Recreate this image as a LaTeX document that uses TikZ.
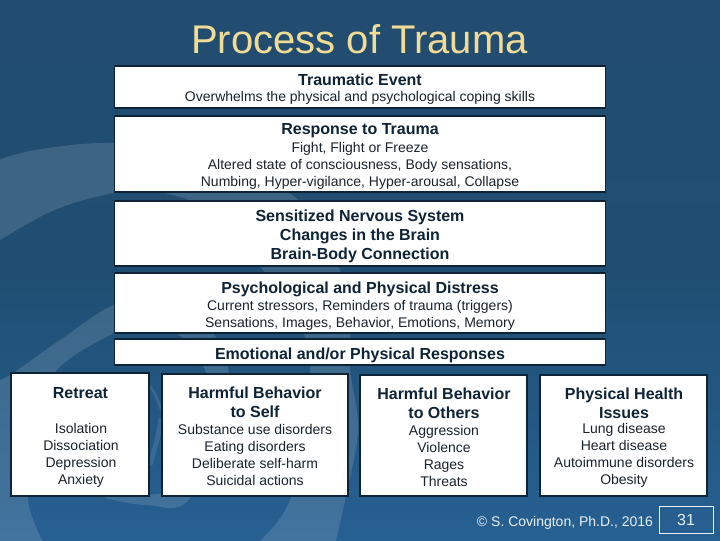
\documentclass[tikz,border=0pt]{standalone}
\usepackage{fontspec}
\setmainfont{Liberation Sans}
\definecolor{titlecol}{RGB}{240,220,150}
\definecolor{inkdark}{RGB}{15,35,55}
\definecolor{inkbody}{RGB}{25,35,45}
\definecolor{bgbot}{RGB}{38,96,146}
\definecolor{bgmidc}{RGB}{32,78,114}
\definecolor{bgtopc}{RGB}{36,75,110}
\pgfdeclareverticalshading{slidebg}{100bp}{
 color(0bp)=(bgbot);
 color(25bp)=(bgbot);
 color(50bp)=(bgmidc);
 color(100bp)=(bgtopc)}
\tikzset{
 wbox/.style={draw=inkdark,line width=0.8pt,fill=white,inner sep=0pt},
 ttl/.style={font=\fontsize{12}{14.3}\selectfont\bfseries,text=inkdark,align=center,inner sep=0pt},
 sub/.style={font=\fontsize{10.5}{12.75}\selectfont,text=inkbody,align=center,inner sep=0pt},
 swirlband/.style={fill=white,fill opacity=.13,draw=none}
}
\begin{document}
\begin{tikzpicture}[x=0.75pt,y=-0.75pt]
\useasboundingbox (0,0) rectangle (720,540);
\shade[shading=slidebg] (0,0) rectangle (720,540);
\begin{scope}
\clip (0,0) rectangle (720,540);
% outer band
\fill[swirlband] plot[smooth,tension=.6] coordinates {(-10,163) (35,150) (114,143) (200,155) (295,197) (340,270) (350,336) (350,370) (358,430) (345,500) (335,545)}
 -- plot[smooth,tension=.6] coordinates {(255,545) (290,500) (308,400) (305,336) (263,270) (220,215) (150,190) (100,196) (50,212) (0,240) (-10,246)} -- cycle;
% middle band
\fill[swirlband] plot[smooth,tension=.6] coordinates {(-10,383) (10,375) (60,340) (114,305) (160,300) (215,336) (228,400) (190,498) (147,505) (105,498)}
 -- plot[smooth,tension=.6] coordinates {(105,490) (147,495) (185,480) (205,400) (205,370) (180,336) (150,322) (114,333) (55,372) (35,430) (28,500) (45,545)}
 -- (-10,545) -- cycle;
% thin arcs between the lower boxes
\draw[white,opacity=.1,line width=2pt] plot[smooth] coordinates {(150,386) (156,396) (161,409)};
\draw[white,opacity=.1,line width=3.5pt] plot[smooth] coordinates {(161,418) (157,440) (150,465)};
\end{scope}
\node[font=\fontsize{30}{34}\selectfont,text=titlecol,inner sep=0pt] (title) at (359.5,39) {Process of Trauma};
\node[wbox,minimum width=0.75pt*491,minimum height=0.75pt*42] (b1) at (360,87) {};
\node[ttl] (b1t) at (360,80) {Traumatic Event};
\node[sub] (b1s) at (360,98) {Overwhelms the physical and psychological coping skills};
\node[wbox,minimum width=0.75pt*491,minimum height=0.75pt*76] (b2) at (360,154) {};
\node[ttl] (b2t) at (360,131) {Response to Trauma};
\node[sub] (b2s) at (360,166) {Fight, Flight or Freeze\\Altered state of consciousness, Body sensations,\\Numbing, Hyper-vigilance, Hyper-arousal, Collapse};
\node[wbox,minimum width=0.75pt*491,minimum height=0.75pt*65] (b3) at (360,233.5) {};
\node[ttl] (b3t) at (360,236) {Sensitized Nervous System\\Changes in the Brain\\Brain-Body Connection};
\node[wbox,minimum width=0.75pt*491,minimum height=0.75pt*60] (b4) at (360,303) {};
\node[ttl] (b4t) at (360,289) {Psychological and Physical Distress};
\node[sub] (b4s) at (360,315) {Current stressors, Reminders of trauma (triggers)\\Sensations, Images, Behavior, Emotions, Memory};
\node[wbox,minimum width=0.75pt*491,minimum height=0.75pt*26] (b5) at (360,352) {};
\node[ttl] (b5t) at (360,355) {Emotional and/or Physical Responses};
\node[wbox,minimum width=0.75pt*138,minimum height=0.75pt*123] (c1) at (80,434.5) {};
\node[ttl] (c1t) at (80.5,393) {Retreat};
\node[sub] (c1s) at (81,455.5) {Isolation\\Dissociation\\Depression\\Anxiety};
\node[wbox,minimum width=0.75pt*186,minimum height=0.75pt*122] (c2) at (255,435) {};
\node[ttl] (c2t) at (255,402.5) {Harmful Behavior\\to Self};
\node[sub] (c2s) at (255,455) {Substance use disorders\\Eating disorders\\Deliberate self-harm\\Suicidal actions};
\node[wbox,minimum width=0.75pt*167,minimum height=0.75pt*121] (c3) at (443.5,435.5) {};
\node[ttl] (c3t) at (444,403.5) {Harmful Behavior\\to Others};
\node[sub] (c3s) at (444,455.5) {Aggression\\Violence\\Rages\\Threats};
\node[wbox,minimum width=0.75pt*167,minimum height=0.75pt*121] (c4) at (623.5,435.5) {};
\node[ttl] (c4t) at (624,403.5) {Physical Health\\Issues};
\node[sub] (c4s) at (624,455.5) {Lung disease\\Heart disease\\Autoimmune disorders\\Obesity};
\node[font=\fontsize{10.5}{12}\selectfont,text=white!90!bgbot,inner sep=0pt] (cr) at (565,522.5) {© S. Covington, Ph.D., 2016};
\node[draw=white!90!bgbot,line width=0.6pt,minimum width=0.75pt*54,minimum height=0.75pt*27,inner sep=0pt,text=white!90!bgbot,font=\fontsize{12}{14}\selectfont] (pg) at (686,519.5) {31};
\end{tikzpicture}
\end{document}
